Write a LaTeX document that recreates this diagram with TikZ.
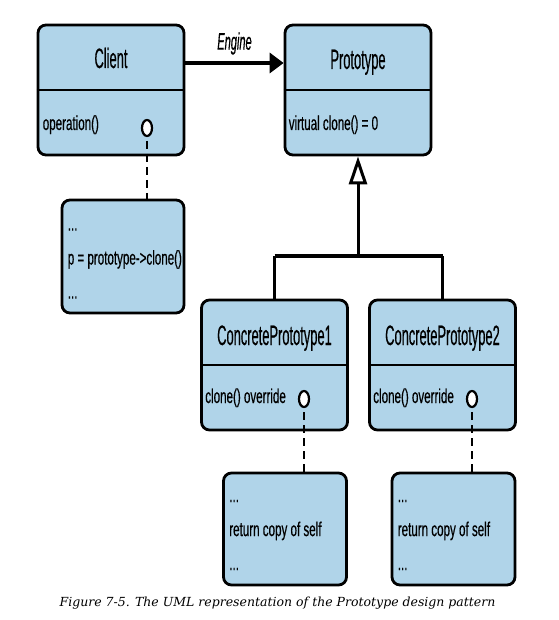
\documentclass[tikz,border=0pt]{standalone}
\usepackage{fontspec}
\usepackage{tikz}
\usetikzlibrary{calc, positioning, arrows.meta, shapes.geometric}
\newfontfamily\umlfont[FakeStretch=0.58, FakeBold=0.4]{Liberation Sans}
\newfontfamily\umltitlefont[FakeStretch=0.46, FakeBold=0.4]{Liberation Sans}
\newfontfamily\capfont{DejaVu Serif}
\definecolor{umlblue}{RGB}{176,212,233}

\begin{document}
\begin{tikzpicture}[x=1pt, y=-1pt, >=Triangle,
		classbox/.style={draw, line width=2.8pt, rounded corners=8pt, fill=umlblue, minimum width=146pt, minimum height=130pt},
		notebox/.style={draw, line width=2.8pt, rounded corners=8pt, fill=umlblue, minimum width=123pt, minimum height=112pt},
		title/.style={font=\umltitlefont\fontsize{28}{30}\selectfont, inner sep=0pt, anchor=base},
		method/.style={font=\umlfont\fontsize{20}{24}\selectfont, inner sep=0pt, anchor=base west},
		notetext/.style={font=\umlfont\fontsize{20}{34}\selectfont, inner sep=0pt, anchor=west, align=left},
		dot/.style={draw, ellipse, line width=2.2pt, fill=white, minimum width=10pt, minimum height=16pt, inner sep=0pt},
		noteline/.style={line width=2.8pt, dash pattern=on 8pt off 5pt}]
		\useasboundingbox (0,0) rectangle (558,620);

		% classes
		\node[classbox] (client) at (111,90) {};
		\node[classbox] (proto) at (358,90) {};
		\node[classbox] (cp1) at (274.5,365) {};
		\node[classbox] (cp2) at (442.5,365) {};
		\foreach \c in {client, proto, cp1, cp2}
			\draw[line width=2.8pt] (\c.west) -- (\c.east);

		\node[title] (clientname) at ([yshift=22pt]client.center) {Client};
		\node[title] (protoname) at ([yshift=21pt]proto.center) {Prototype};
		\node[title] (cp1name) at ([yshift=20pt]cp1.center) {ConcretePrototype1};
		\node[title] (cp2name) at ([yshift=20pt]cp2.center) {ConcretePrototype2};

		\node[method] (clientop) at ([xshift=6pt, yshift=-40pt]client.west) {operation()};
		\node[method] (protoop) at ([xshift=5pt, yshift=-40pt]proto.west) {virtual clone() = 0};
		\node[method] (cp1op) at ([xshift=5pt, yshift=-38pt]cp1.west) {clone() override};
		\node[method] (cp2op) at ([xshift=5pt, yshift=-38pt]cp2.west) {clone() override};

		% notes
		\node[notebox, minimum height=113pt, minimum width=122pt] (clientnote) at (123,256.5) {};
		\node[notebox] (cp1note) at (285,529) {};
		\node[notebox] (cp2note) at (453.5,529) {};

		\node[notetext] (clientcode) at ([xshift=7pt, yshift=-7pt]clientnote.west) {...\\p = prototype->clone()\\...};
		\node[notetext] (cp1code) at ([xshift=7pt, yshift=-6pt]cp1note.west) {...\\return copy of self\\...};
		\node[notetext] (cp2code) at ([xshift=7pt, yshift=-6pt]cp2note.west) {...\\return copy of self\\...};

		\draw[noteline] (147,128) -- (147,128 |- clientnote.north);
		\draw[noteline] (304,399) -- (304,399 |- cp1note.north);
		\draw[noteline] (472,399) -- (472,399 |- cp2note.north);
		\node[dot] (clientdot) at (147,128) {};
		\node[dot] (cp1dot) at (304,399) {};
		\node[dot] (cp2dot) at (472,399) {};

		% association
		\draw[line width=4pt, -{Triangle[length=14pt, width=20pt]}]
		([yshift=27pt]client.east) --
		node[above=3pt, font=\umltitlefont\itshape\fontsize{24}{26}\selectfont] {Engine}
		([yshift=27pt]proto.west);

		% inheritance
		\coordinate (bar) at (358,256);
		\draw[line width=4pt] (cp1.north |- bar) -- (cp2.north |- bar);
		\draw[line width=3pt] (cp1.north) -- (cp1.north |- bar);
		\draw[line width=3pt] (cp2.north) -- (cp2.north |- bar);
		\draw[line width=3pt, -{Triangle[open, length=28pt, width=18pt, fill=white]}] (bar) -- (proto.south);

		\node[font=\capfont\itshape\fontsize{12.5}{15}\selectfont] (caption) at (277.5,603) {Figure 7-5. The UML representation of the Prototype design pattern};
	\end{tikzpicture}
\end{document}
